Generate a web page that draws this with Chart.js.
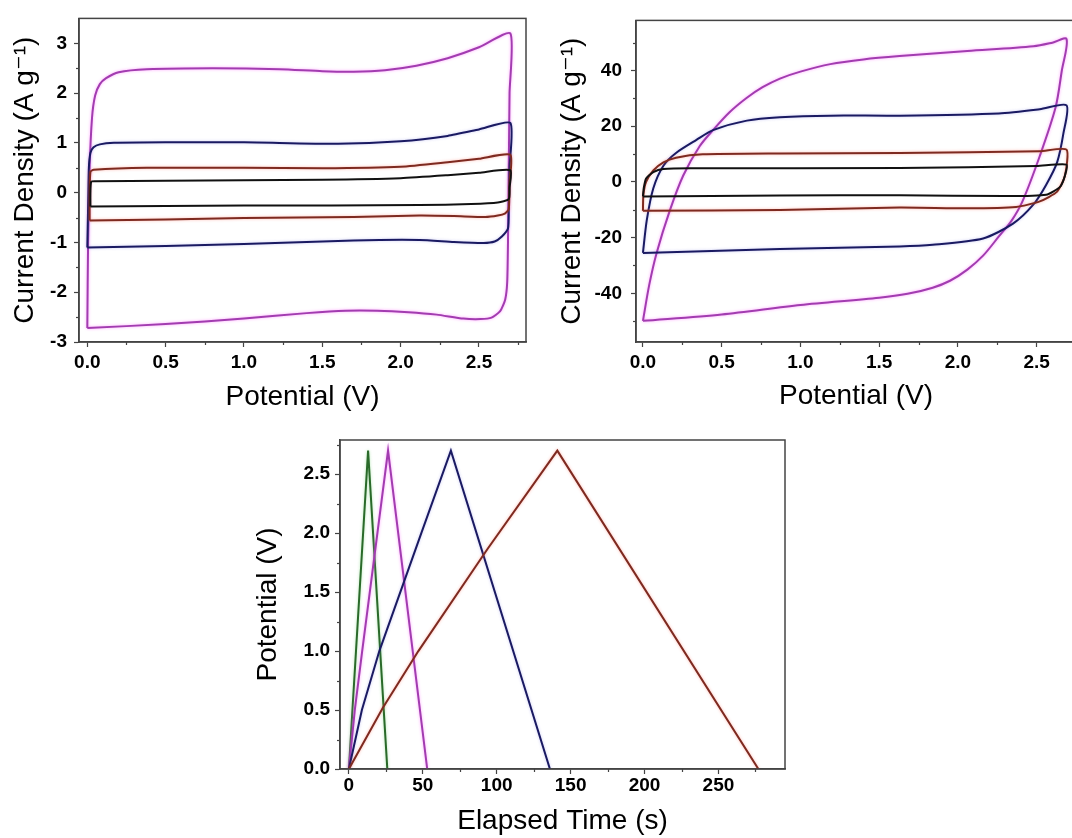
<!DOCTYPE html>
<html lang="en">
<head>
  <meta charset="UTF-8" />
  <title>CV and GCD curves</title>
  <script src="https://cdn.jsdelivr.net/npm/chart.js"></script>
  <style>
    body {
      margin: 0;
      background: #fff;
      width: 1072px;
      height: 838px;
      overflow: hidden;
      position: relative;
    }
    canvas {
      position: absolute;
    }
  </style>
</head>
<body>
  <canvas id="cv1" width="540" height="420" style="left:0;top:0"></canvas>
  <canvas id="cv2" width="536" height="420" style="left:540px;top:0"></canvas>
  <canvas id="gcd" width="560" height="418" style="left:250px;top:420px"></canvas>

  <script>
    // tick values
    const cvXMajor = [0, 0.5, 1, 1.5, 2, 2.5];
    const cvXMinor = [0.25, 0.75, 1.25, 1.75, 2.25, 2.75];
    const cv1YMajor = [-3, -2, -1, 0, 1, 2, 3];
    const cv1YMinor = [-2.5, -1.5, -0.5, 0.5, 1.5, 2.5];
    const cv2YMajor = [-40, -20, 0, 20, 40];
    const cv2YMinor = [-50, -30, -10, 10, 30, 50];
    const gcdXMajor = [0, 50, 100, 150, 200, 250];
    const gcdXMinor = [25, 75, 125, 175, 225, 275];
    const gcdYMajor = [0, 0.5, 1, 1.5, 2, 2.5];
    const gcdYMinor = [0.25, 0.75, 1.25, 1.75, 2.25, 2.75];

    // CV loops, panel 1: [potential V, current A/g]
    const cv1Magenta = [[0, -2.72], [0.005, -1.0], [0.015, 0.5], [0.03, 1.5], [0.05, 1.95], [0.08, 2.18], [0.12, 2.3], [0.2, 2.42], [0.38, 2.48], [0.8, 2.5], [1.23, 2.48], [1.5, 2.44], [1.7, 2.43], [1.9, 2.46], [2.1, 2.55], [2.3, 2.7], [2.5, 2.92], [2.7, 3.2], [2.695, 2.0], [2.69, 0.5], [2.685, -1.0], [2.68, -1.8], [2.667, -2.15], [2.635, -2.38], [2.58, -2.51], [2.51, -2.54], [2.4, -2.53], [2.23, -2.45], [2.05, -2.4], [1.85, -2.37], [1.65, -2.37], [1.4, -2.42], [1.0, -2.53], [0.5, -2.64], [0, -2.72]];
    const cv1Blue = [[0, -1.1], [0.005, -0.3], [0.01, 0.5], [0.02, 0.8], [0.04, 0.91], [0.08, 0.97], [0.17, 1.0], [0.5, 1.01], [1.0, 1.01], [1.6, 0.98], [2.0, 1.03], [2.3, 1.14], [2.5, 1.27], [2.7, 1.4], [2.695, 0.5], [2.69, -0.3], [2.685, -0.72], [2.646, -0.88], [2.6, -0.98], [2.53, -1.01], [2.34, -0.99], [2.12, -0.95], [1.7, -0.96], [1.0, -1.03], [0.5, -1.07], [0, -1.1]];
    const cv1Red = [[0.015, -0.56], [0.015, 0.0], [0.02, 0.42], [0.04, 0.46], [0.38, 0.5], [1.0, 0.5], [1.5, 0.49], [2.0, 0.52], [2.3, 0.61], [2.5, 0.68], [2.7, 0.76], [2.695, 0.2], [2.69, -0.33], [2.665, -0.42], [2.62, -0.46], [2.54, -0.49], [2.34, -0.47], [2.12, -0.46], [1.7, -0.49], [1.0, -0.51], [0.5, -0.54], [0.015, -0.56]];
    const cv1Black = [[0.02, -0.28], [0.02, 0.0], [0.025, 0.22], [0.05, 0.23], [0.5, 0.24], [1.5, 0.26], [2.0, 0.29], [2.3, 0.35], [2.5, 0.4], [2.7, 0.45], [2.695, 0.1], [2.69, -0.13], [2.62, -0.2], [2.45, -0.23], [2.12, -0.25], [1.0, -0.26], [0.5, -0.27], [0.02, -0.28]];

    // CV loops, panel 2
    const cv2Magenta = [[0, -49.9], [0.04, -37], [0.087, -25.5], [0.17, -10.4], [0.256, 2.3], [0.36, 12.8], [0.445, 18.6], [0.55, 25], [0.66, 30.2], [0.76, 34], [0.87, 37.1], [1.0, 39.6], [1.19, 42.3], [1.4, 44], [1.63, 45.2], [2.06, 47], [2.48, 48.7], [2.6, 50], [2.69, 51.3], [2.66, 40], [2.62, 26.7], [2.52, 9.3], [2.41, -7], [2.34, -14], [2.26, -19.6], [2.16, -26.5], [2.06, -31.5], [1.95, -35.5], [1.84, -38], [1.68, -40.2], [1.5, -41.6], [1.0, -44.2], [0.5, -47.6], [0, -49.9]];
    const cv2Blue = [[0, -25.5], [0.024, -13.9], [0.066, -2.3], [0.13, 5.8], [0.21, 10.4], [0.34, 15.1], [0.445, 18.6], [0.66, 22], [0.87, 23.2], [1.19, 23.8], [1.63, 23.8], [2.26, 24.6], [2.52, 26.1], [2.69, 27.5], [2.67, 17.4], [2.63, 7], [2.56, -1.1], [2.48, -8.1], [2.35, -15], [2.16, -20.3], [1.84, -22.6], [1.63, -23.2], [0.87, -24.1], [0, -25.5]];
    const cv2Red = [[0, -10.4], [0.003, -4.6], [0.02, 0], [0.066, 4.1], [0.13, 7], [0.21, 8.7], [0.38, 9.9], [0.87, 10.2], [1.63, 10.4], [2.52, 11], [2.69, 11.6], [2.68, 2.3], [2.63, -3.5], [2.52, -7], [2.37, -9], [2.06, -9.5], [1.63, -9.2], [0.87, -10.1], [0, -10.4]];
    const cv2Black = [[0, -5.2], [0.005, -2.3], [0.02, 1.2], [0.066, 3.5], [0.13, 4.6], [0.3, 4.9], [1.63, 5.0], [2.5, 5.7], [2.69, 6.2], [2.68, 2.3], [2.65, -1.7], [2.56, -4.6], [2.3, -5.1], [1.63, -4.8], [0.87, -4.9], [0, -5.2]];

    // charge-discharge curves: [time s, potential V]
    const gcdGreen = [[0, 0], [13, 2.7], [26, 0]];
    const gcdMagenta = [[0, 0], [4, 0.5], [9, 1.0], [26.5, 2.7], [53, 0]];
    const gcdBlue = [[0, 0], [8.8, 0.5], [20.6, 1.0], [49, 2.0], [69, 2.7], [136, 0]];
    const gcdRed = [[0, 0], [23, 0.52], [47, 1.0], [94, 1.87], [141, 2.7], [277, 0]];

    const FONT = "'Liberation Sans', Arial, 'DejaVu Sans', sans-serif";
    const FRAME = '#444';

    const colors = {
      magenta: { line: '#a23cb0', glow: 'rgba(255,80,255,0.55)' },
      blue: { line: '#1a1a62', glow: 'rgba(80,80,220,0.3)' },
      red: { line: '#7e2a20', glow: 'rgba(255,100,80,0.45)' },
      black: { line: '#111111', glow: null },
      green: { line: '#2a6a2a', glow: 'rgba(80,200,80,0.45)' }
    };

    function series(points, c, tension) {
      return {
        data: points.map(p => ({ x: p[0], y: p[1] })),
        borderColor: c.line,
        glow: c.glow,
        borderWidth: 2,
        showLine: true,
        pointRadius: 0,
        tension: tension,
        fill: false
      };
    }

    // soft halo round the curves like the scanned figure
    const glowPlugin = {
      id: 'glow',
      beforeDatasetDraw(chart, args) {
        const ds = chart.data.datasets[args.index];
        chart.ctx.save();
        if (ds.glow) {
          chart.ctx.shadowColor = ds.glow;
          chart.ctx.shadowBlur = 3;
        }
      },
      afterDatasetDraw(chart) {
        chart.ctx.restore();
      }
    };

    // full box round the plot + short minor ticks
    const framePlugin = {
      id: 'frame',
      afterDraw(chart) {
        const ctx = chart.ctx;
        const a = chart.chartArea;
        ctx.save();
        ctx.strokeStyle = FRAME;
        ctx.lineWidth = 1.5;
        ctx.strokeRect(a.left, a.top, a.right - a.left, a.bottom - a.top);
        ctx.lineWidth = 1.2;
        const minor = chart.options.plugins.frame;
        const xs = chart.scales.x, ys = chart.scales.y;
        minor.x.forEach(v => {
          const px = Math.round(xs.getPixelForValue(v)) + 0.5;
          ctx.beginPath();
          ctx.moveTo(px, a.bottom);
          ctx.lineTo(px, a.bottom + 3);
          ctx.stroke();
        });
        minor.y.forEach(v => {
          const py = Math.round(ys.getPixelForValue(v)) + 0.5;
          ctx.beginPath();
          ctx.moveTo(a.left, py);
          ctx.lineTo(a.left - 3, py);
          ctx.stroke();
        });
        ctx.restore();
      }
    };

    function axis(o) {
      return {
        type: 'linear',
        min: o.min,
        max: o.max,
        afterBuildTicks: s => { s.ticks = o.major.map(v => ({ value: v })); },
        afterFit: s => {
          if (o.width) s.width = o.width;
          if (o.height) s.height = o.height;
        },
        grid: { drawOnChartArea: false, drawTicks: true, tickLength: 5, tickColor: FRAME, tickWidth: 1.2 },
        border: { display: true, color: FRAME, width: 1.5 },
        ticks: {
          autoSkip: false,
          maxRotation: 0,
          padding: o.pad,
          color: '#000',
          font: { family: FONT, size: 19, weight: 'bold' },
          callback: o.fmt
        },
        title: {
          display: true,
          text: o.title,
          color: '#000',
          font: { family: FONT, size: 28 },
          padding: o.titlePad
        }
      };
    }

    function makeChart(id, datasets, xo, yo, pad, minorX, minorY) {
      return new Chart(document.getElementById(id), {
        type: 'scatter',
        data: { datasets: datasets },
        options: {
          responsive: false,
          animation: false,
          layout: { padding: pad },
          scales: { x: axis(xo), y: axis(yo) },
          plugins: {
            legend: { display: false },
            tooltip: { enabled: false },
            frame: { x: minorX, y: minorY }
          }
        },
        plugins: [glowPlugin, framePlugin]
      });
    }

    const yTitleCV = 'Current Density (A g\u207B\u00B9)';

    makeChart('cv1',
      [series(cv1Black, colors.black, 0.2), series(cv1Red, colors.red, 0.2),
       series(cv1Blue, colors.blue, 0.2), series(cv1Magenta, colors.magenta, 0.2)],
      { min: -0.053, max: 2.8, major: cvXMajor, height: 78, pad: 4, fmt: v => v.toFixed(1),
        title: 'Potential (V)', titlePad: { top: 0, bottom: 6 } },
      { min: -3, max: 3.5, major: cv1YMajor, width: 79, pad: 7, fmt: v => String(v),
        title: yTitleCV, titlePad: { top: 8, bottom: 0 } },
      { top: 12, right: 14, left: 0, bottom: 0 },
      cvXMinor, cv1YMinor);

    makeChart('cv2',
      [series(cv2Black, colors.black, 0.2), series(cv2Red, colors.red, 0.2),
       series(cv2Blue, colors.blue, 0.25), series(cv2Magenta, colors.magenta, 0.3)],
      { min: -0.044, max: 2.75, major: cvXMajor, height: 78, pad: 4, fmt: v => v.toFixed(1),
        title: 'Potential (V)', titlePad: { top: 0, bottom: 7 } },
      { min: -57.5, max: 58, major: cv2YMajor, width: 96, pad: 9, fmt: v => String(v),
        title: yTitleCV, titlePad: { top: 15, bottom: 0 } },
      { top: 10, right: 0, left: 0, bottom: 0 },
      cvXMinor, cv2YMinor);

    makeChart('gcd',
      [series(gcdRed, colors.red, 0), series(gcdBlue, colors.blue, 0),
       series(gcdMagenta, colors.magenta, 0), series(gcdGreen, colors.green, 0)],
      { min: -6, max: 295, major: gcdXMajor, height: 69, pad: 0, fmt: v => String(v),
        title: 'Elapsed Time (s)', titlePad: { top: 0, bottom: 0 } },
      { min: 0, max: 2.79, major: gcdYMajor, width: 90, pad: 5, fmt: v => v.toFixed(1),
        title: 'Potential (V)', titlePad: { top: 1, bottom: 0 } },
      { top: 20, right: 25, left: 0, bottom: 0 },
      gcdXMinor, gcdYMinor);
  </script>
</body>
</html>
